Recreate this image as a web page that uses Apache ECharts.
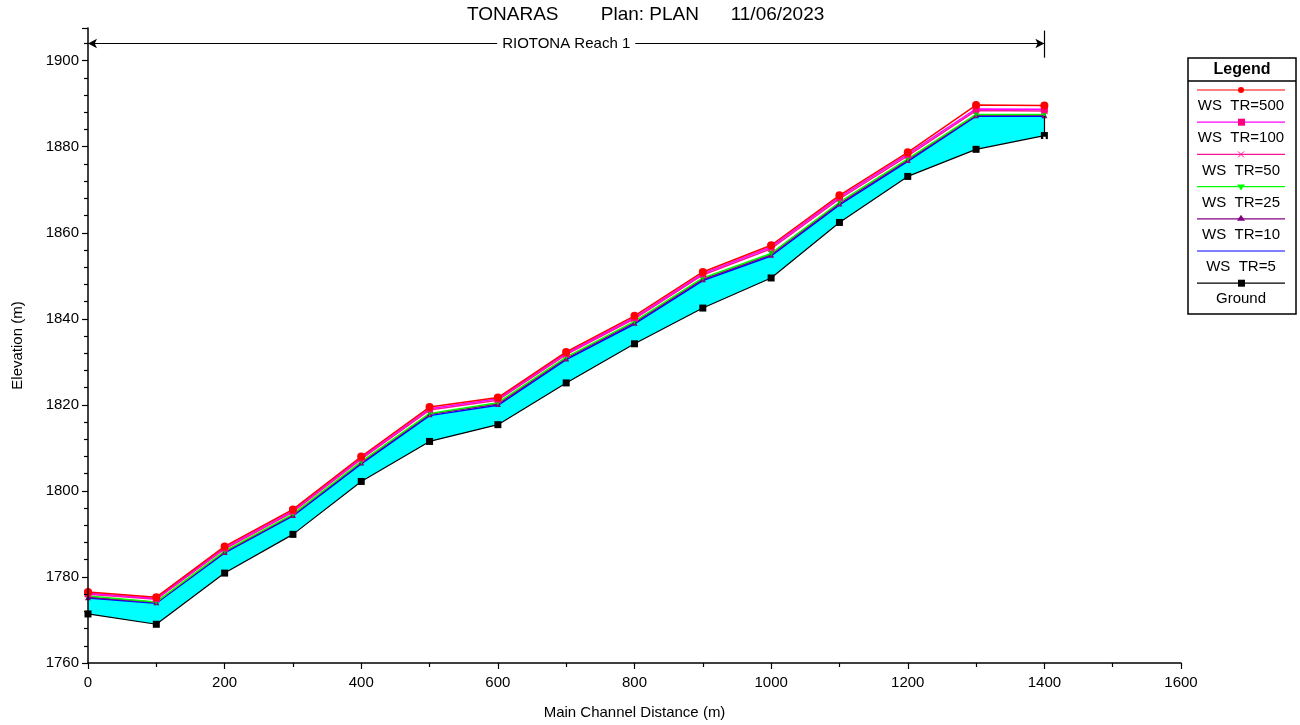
<!DOCTYPE html>
<html>
<head>
<meta charset="utf-8">
<script src="https://cdn.jsdelivr.net/npm/echarts@6/dist/echarts.min.js"></script>
<style>
  html, body { margin: 0; padding: 0; background: #fff; }
  #main { width: 1300px; height: 725px; }
</style>
</head>
<body>
<div id="main"></div>
<script>
// distancias del cauce principal (m)
var dist = [0, 100, 200, 300, 400, 500, 600, 700, 800, 900, 1000, 1100, 1200, 1300, 1400];
var ground = [1771.4, 1769.0, 1780.9, 1789.9, 1802.2, 1811.5, 1815.4, 1825.1, 1834.2, 1842.5, 1849.5, 1862.4, 1873.1, 1879.4, 1882.6];
var ws500 = [1776.5, 1775.3, 1787.1, 1795.7, 1808.0, 1819.5, 1821.7, 1832.3, 1840.7, 1850.9, 1857.1, 1868.7, 1878.7, 1889.7, 1889.6];
var ws100 = [1776.2, 1775.0, 1786.8, 1795.4, 1807.7, 1819.1, 1821.4, 1832.0, 1840.3, 1850.5, 1856.7, 1868.3, 1878.3, 1888.8, 1888.7];
var ws50 = [1776.0, 1774.8, 1786.5, 1795.1, 1807.4, 1818.8, 1821.1, 1831.7, 1840.0, 1850.2, 1856.3, 1867.9, 1877.9, 1888.4, 1888.3];
var ws25 = [1775.6, 1774.2, 1786.0, 1794.6, 1806.8, 1818.0, 1820.5, 1831.1, 1839.4, 1849.5, 1855.2, 1867.1, 1877.2, 1887.5, 1887.5];
var ws10 = [1775.3, 1774.1, 1785.8, 1794.4, 1806.6, 1817.8, 1820.2, 1830.8, 1839.1, 1849.2, 1854.9, 1866.8, 1876.9, 1887.3, 1887.3];
var ws5 = [1775.1, 1773.9, 1785.6, 1794.2, 1806.3, 1817.5, 1819.9, 1830.5, 1838.8, 1848.9, 1854.6, 1866.5, 1876.6, 1887.1, 1887.1];
var yTicks = [1760, 1780, 1800, 1820, 1840, 1860, 1880, 1900];
var xTicks = [0, 200, 400, 600, 800, 1000, 1200, 1400, 1600];
var legendNames = ['WS  TR=500', 'WS  TR=100', 'WS  TR=50', 'WS  TR=25', 'WS  TR=10', 'WS  TR=5', 'Ground'];

var font = 'Liberation Sans, Arial, sans-serif';
var xMark = 'path://M0,1L1,0L5,4L9,0L10,1L6,5L10,9L9,10L5,6L1,10L0,9L4,5Z';
var lastX = dist[dist.length - 1];

function pairs(arr) {
  return dist.map(function (d, i) { return [d, arr[i]]; });
}

var chart = echarts.init(document.getElementById('main'));

function wsLine(name, arr, lineColor, symColor, symbol, size, rotate) {
  return {
    name: name,
    type: 'line',
    z: 3,
    data: pairs(arr),
    symbol: symbol,
    symbolSize: size,
    symbolRotate: rotate || 0,
    lineStyle: { color: lineColor, width: 1.5 },
    itemStyle: { color: symColor },
    animation: false
  };
}

// leyenda dibujada a mano (linea arriba, texto abajo)
var legendColors = ['#FF0000', '#FF00FF', '#FF1493', '#00FF00', '#800080', '#0000FF', '#000000'];
var markColors = ['#FF0000', '#FF0080', '#FF1493', '#00FF00', '#800080', null, '#000000'];
var graphics = [
  { type: 'rect', shape: { x: 1188, y: 58, width: 108, height: 256 }, style: { fill: '#fff', stroke: '#000', lineWidth: 1.5 }, z: 10 },
  { type: 'text', x: 1242, y: 70, style: { text: 'Legend', font: 'bold 16px ' + font, fill: '#000', align: 'center', verticalAlign: 'middle' }, z: 11 },
  { type: 'line', shape: { x1: 1188, y1: 81, x2: 1296, y2: 81 }, style: { stroke: '#000', lineWidth: 1.5 }, z: 11 }
];
legendNames.forEach(function (nm, i) {
  var ly = 90 + i * 32.2;
  var ty = 106 + i * 32.2;
  graphics.push({ type: 'line', shape: { x1: 1197, y1: ly, x2: 1285, y2: ly }, style: { stroke: legendColors[i], lineWidth: 1.2 }, z: 11 });
  var c = markColors[i];
  if (i === 0) graphics.push({ type: 'circle', shape: { cx: 1241, cy: ly, r: 3 }, style: { fill: c }, z: 12 });
  if (i === 1 || i === 6) graphics.push({ type: 'rect', shape: { x: 1238, y: ly - 3.5, width: 7, height: 7 }, style: { fill: c }, z: 12 });
  if (i === 2) {
    graphics.push({ type: 'line', shape: { x1: 1238, y1: ly - 3, x2: 1244, y2: ly + 3 }, style: { stroke: c, lineWidth: 1 }, z: 12 });
    graphics.push({ type: 'line', shape: { x1: 1244, y1: ly - 3, x2: 1238, y2: ly + 3 }, style: { stroke: c, lineWidth: 1 }, z: 12 });
  }
  if (i === 3) graphics.push({ type: 'polygon', shape: { points: [[1237, ly - 2], [1245, ly - 2], [1241, ly + 4]] }, style: { fill: c }, z: 12 });
  if (i === 4) graphics.push({ type: 'polygon', shape: { points: [[1237, ly + 2], [1245, ly + 2], [1241, ly - 4]] }, style: { fill: c }, z: 12 });
  graphics.push({ type: 'text', x: 1241, y: ty, style: { text: nm, font: '15px ' + font, fill: '#000', align: 'center', verticalAlign: 'middle' }, z: 11 });
});

var option = {
  backgroundColor: '#fff',
  animation: false,
  title: {
    text: 'TONARAS        Plan: PLAN      11/06/2023',
    left: 467,
    top: 5,
    padding: 0,
    textStyle: { fontFamily: font, fontSize: 19, fontWeight: 'normal', color: '#000' }
  },
  grid: { left: 88, right: 119, top: 28, bottom: 58 },
  xAxis: {
    type: 'value',
    min: 0,
    max: 1600,
    interval: 200,
    z: 10,
    name: 'Main Channel Distance (m)',
    nameLocation: 'middle',
    nameGap: 42,
    nameTextStyle: { fontFamily: font, fontSize: 15, color: '#000' },
    axisLine: { lineStyle: { color: '#000', width: 1.5 } },
    axisTick: { length: 6, lineStyle: { color: '#000', width: 1.2 } },
    minorTick: { show: true, splitNumber: 2, length: 4, lineStyle: { color: '#000', width: 1.2 } },
    splitLine: { show: false },
    axisLabel: {
      margin: 12,
      fontFamily: font, fontSize: 15, color: '#000',
      formatter: function (v) { return xTicks.indexOf(v) >= 0 ? String(v) : ''; }
    }
  },
  yAxis: {
    type: 'value',
    min: 1760,
    max: 1907.6,
    interval: 20,
    z: 10,
    name: 'Elevation (m)',
    nameLocation: 'middle',
    nameGap: 63,
    nameTextStyle: { fontFamily: font, fontSize: 15, color: '#000' },
    axisLine: { show: true, lineStyle: { color: '#000', width: 1.5 } },
    axisTick: { length: 6, lineStyle: { color: '#000', width: 1.2 } },
    minorTick: { show: true, splitNumber: 5, length: 4, lineStyle: { color: '#000', width: 1.2 } },
    splitLine: { show: false },
    axisLabel: {
      margin: 9,
      showMaxLabel: false,
      fontFamily: font, fontSize: 15, color: '#000',
      formatter: function (v) { return yTicks.indexOf(v) >= 0 ? String(v) : ''; }
    }
  },
  graphic: graphics,
  series: [
    {
      name: 'WS  TR=5',
      type: 'line',
      z: 1,
      data: pairs(ws5),
      symbol: 'none',
      lineStyle: { color: '#0000FF', width: 1.5 },
      areaStyle: { color: '#00FFFF', opacity: 1, origin: 'start' },
      animation: false
    },
    {
      name: 'Ground',
      type: 'line',
      z: 2,
      data: pairs(ground),
      symbol: 'rect',
      symbolSize: 7,
      lineStyle: { color: '#000', width: 1.2 },
      itemStyle: { color: '#000' },
      areaStyle: { color: '#fff', opacity: 1, origin: 'start' },
      animation: false
    },
    wsLine('WS  TR=10', ws10, '#800080', '#800080', 'triangle', 6),
    wsLine('WS  TR=25', ws25, '#00FF00', '#00CC00', 'triangle', 6, 180),
    wsLine('WS  TR=50', ws50, '#FF1493', '#FF1493', xMark, 7),
    wsLine('WS  TR=100', ws100, '#FF00FF', '#FF0080', 'rect', 7),
    {
      name: 'WS  TR=500',
      type: 'line',
      z: 3,
      data: pairs(ws500),
      symbol: 'circle',
      symbolSize: 8,
      lineStyle: { color: '#FF0000', width: 1.5 },
      itemStyle: { color: '#FF0000' },
      // tramo del rio: flecha doble, marca final y cierre del relleno
      markLine: {
        silent: true,
        lineStyle: { color: '#000', width: 1.2, type: 'solid' },
        data: [
          [
            { coord: [dist[0], 1904.0], symbol: 'arrow', symbolSize: [7, 9] },
            { coord: [lastX, 1904.0], symbol: 'arrow', symbolSize: [7, 9] }
          ],
          [
            { coord: [lastX, 1907.0], symbol: 'none' },
            { coord: [lastX, 1900.7], symbol: 'none' }
          ],
          [
            { coord: [lastX, 1760], symbol: 'none', lineStyle: { color: '#fff', width: 2.5 } },
            { coord: [lastX, ground[ground.length - 1] - 0.3], symbol: 'none' }
          ],
          [
            { coord: [lastX, ground[ground.length - 1]], symbol: 'none' },
            { coord: [lastX, ws5[ws5.length - 1]], symbol: 'none' }
          ]
        ],
        label: {
          show: true,
          position: 'middle',
          distance: 0,
          verticalAlign: 'middle',
          fontFamily: font,
          fontSize: 15,
          color: '#000',
          backgroundColor: '#fff',
          padding: [0, 5],
          formatter: function (p) { return p.dataIndex === 0 ? 'RIOTONA Reach 1' : ''; }
        }
      },
      animation: false
    }
  ]
};

chart.setOption(option);
</script>
</body>
</html>
